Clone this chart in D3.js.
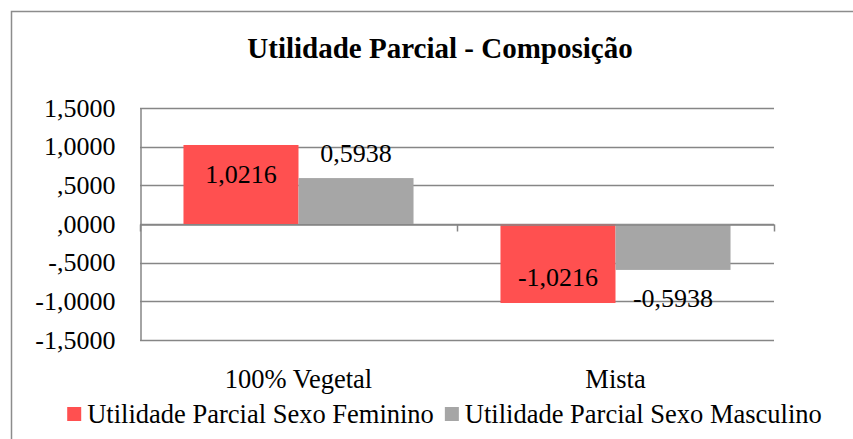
<!DOCTYPE html>
<html>
<head>
<meta charset="utf-8">
<script src="https://cdn.jsdelivr.net/npm/d3@7"></script>
<style>
  html, body { margin: 0; padding: 0; background: #fff; }
  svg { display: block; }
</style>
</head>
<body>
<svg id="chart" width="853" height="439"></svg>
<script>
const title = "Utilidade Parcial - Composição";
const categories = ["100% Vegetal", "Mista"];
const seriesNames = ["Utilidade Parcial Sexo Feminino", "Utilidade Parcial Sexo Masculino"];
const feminino = [1.0216, -1.0216];
const masculino = [0.5938, -0.5938];
const yTickValues = [1.5, 1.0, 0.5, 0.0, -0.5, -1.0, -1.5];
const yTickLabels = ["1,5000", "1,0000", ",5000", ",0000", "-,5000", "-1,0000", "-1,5000"];
const colors = ["#FF5050", "#A6A6A6"];
const labelPlacement = ["inside", "outside"];

const seriesValues = [feminino, masculino];
const fmt = v => v.toFixed(4).replace(".", ",");
const FONT = "Liberation Serif";

const svg = d3.select("#chart");
const W = 853, H = 439;
const plot = { left: 140, right: 774, top: 108, bottom: 340 };
const gridColor = "#868686";

svg.append("rect").attr("width", W).attr("height", H).attr("fill", "#fff");
// outer chart border
svg.append("rect")
  .attr("x", 11.5).attr("y", 11.5).attr("width", 900).attr("height", 500)
  .attr("fill", "none").attr("stroke", "#8c8c8c").attr("stroke-width", 1.5);

// title
svg.append("text")
  .attr("x", 440).attr("y", 58)
  .attr("text-anchor", "middle")
  .style("font-family", FONT)
  .style("font-size", "29px").style("font-weight", "bold")
  .text(title);

const y = d3.scaleLinear().domain([-1.5, 1.5]).range([plot.bottom, plot.top]);
const x0 = d3.scaleBand().domain(categories).range([plot.left, plot.right]).padding(0);
const x1 = d3.scaleBand().domain(d3.range(seriesNames.length))
  .range([0, x0.bandwidth()]).paddingInner(0).paddingOuter(0.378);

// gridlines
svg.append("g")
  .selectAll("line").data(yTickValues).join("line")
  .attr("x1", plot.left).attr("x2", plot.right)
  .attr("y1", d => Math.round(y(d)) + 0.5).attr("y2", d => Math.round(y(d)) + 0.5)
  .attr("stroke", gridColor).attr("stroke-width", 1.5);

// y axis with custom labels
const yAxis = d3.axisLeft(y).tickValues(yTickValues)
  .tickFormat((d, i) => yTickLabels[i]).tickSize(0).tickPadding(25);
const gy = svg.append("g").attr("transform", `translate(${plot.left + 0.5},0)`).call(yAxis)
  .attr("font-family", FONT).attr("font-size", 26);
gy.select(".domain").attr("stroke", gridColor).attr("stroke-width", 1.5);
gy.selectAll("text").style("font-family", FONT).style("font-size", "26px").attr("fill", "#000");

// bars
const groups = svg.append("g").selectAll("g").data(categories).join("g")
  .attr("transform", c => `translate(${x0(c)},0)`);

groups.selectAll("rect")
  .data((c, ci) => seriesValues.map((vals, si) => ({ si, v: vals[ci] })))
  .join("rect")
  .attr("x", d => x1(d.si))
  .attr("width", x1.bandwidth())
  .attr("y", d => y(Math.max(0, d.v)))
  .attr("height", d => Math.abs(y(d.v) - y(0)))
  .attr("fill", d => colors[d.si]);

// x axis at zero
const xAxis = d3.axisBottom(x0).tickSize(0).tickFormat("");
const gx = svg.append("g").attr("transform", `translate(0,${Math.round(y(0)) + 0.5})`).call(xAxis);
gx.select(".domain").attr("stroke", gridColor).attr("stroke-width", 1.5);
// category boundary ticks
const boundaries = [plot.left, ...categories.map(c => x0(c) + x0.bandwidth())];
gx.selectAll(".btick").data(boundaries).join("line")
  .attr("class", "btick")
  .attr("x1", d => d + 0.5).attr("x2", d => d + 0.5)
  .attr("y1", 0).attr("y2", 7)
  .attr("stroke", gridColor).attr("stroke-width", 1.5);

// category labels
svg.append("g").selectAll("text").data(categories).join("text")
  .attr("x", c => x0(c) + x0.bandwidth() / 2)
  .attr("y", 388)
  .attr("text-anchor", "middle")
  .style("font-family", FONT)
  .style("font-size", "26.5px")
  .text(c => c);

// value labels
groups.selectAll("text.val")
  .data((c, ci) => seriesValues.map((vals, si) => ({ si, v: vals[ci] })))
  .join("text")
  .attr("class", "val")
  .attr("x", d => x1(d.si) + x1.bandwidth() / 2)
  .attr("y", d => {
    const end = y(d.v);
    const pos = d.v >= 0;
    if (labelPlacement[d.si] === "inside") return pos ? end + 38 : end - 17;
    return pos ? end - 16 : end + 37;
  })
  .attr("text-anchor", "middle")
  .style("font-family", FONT)
  .style("font-size", "26px")
  .text(d => fmt(d.v));

// legend
const legend = svg.append("g");
const items = legend.selectAll("g").data(seriesNames).join("g");
items.append("rect").attr("width", 14).attr("height", 14).attr("y", 407)
  .attr("fill", (d, i) => colors[i]);
items.append("text").attr("y", 423).attr("x", 20)
  .style("font-family", FONT)
  .style("font-size", "26.5px").text(d => d);
let widths = [];
items.each(function () { widths.push(20 + d3.select(this).select("text").node().getComputedTextLength()); });
const gap = 11;
const total = d3.sum(widths) + gap * (widths.length - 1);
let cx = 444.5 - total / 2;
items.attr("transform", (d, i) => {
  const t = `translate(${cx},0)`;
  cx += widths[i] + gap;
  return t;
});
</script>
</body>
</html>
